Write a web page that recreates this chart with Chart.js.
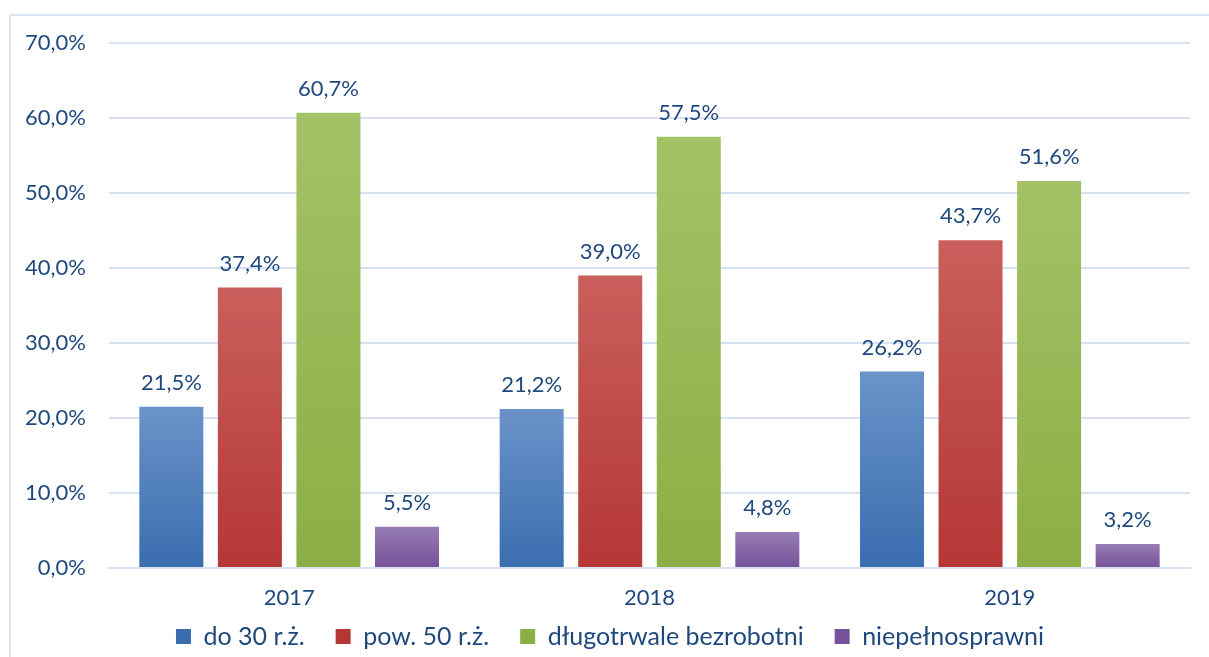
<!DOCTYPE html>
<html>
<head>
<meta charset="utf-8">
<script src="https://cdn.jsdelivr.net/npm/chart.js@4"></script>
<style>
  html, body { margin: 0; padding: 0; background: #fff; }
  #frame { position: absolute; left: 9px; top: 14px; width: 1300px; height: 800px; border: 2px solid #d9e3f1; }
  #wrap { position: absolute; left: 0; top: 0; width: 1209px; height: 657px; }
</style>
</head>
<body>
<div id="frame"></div>
<div id="wrap"><canvas id="chart"></canvas></div>
<script>
var years = ['2017', '2018', '2019'];
var seriesNames = ['do 30 r.ż.', 'pow. 50 r.ż.', 'długotrwale bezrobotni', 'niepełnosprawni'];
var do30 = [21.5, 21.2, 26.2];
var pow50 = [37.4, 39.0, 43.7];
var dlugo = [60.7, 57.5, 51.6];
var niepel = [5.5, 4.8, 3.2];
var yTicks = [0, 10, 20, 30, 40, 50, 60, 70];

// top / bottom colours of each bar gradient
var tops = ['#6a93c9', '#c95f5c', '#a3c266', '#967cb2'];
var bottoms = ['#3a6daf', '#b53735', '#8baf45', '#76529a'];
var mids = ['#4f7fbe', '#bf4a48', '#97b955', '#8566a6'];

var textColor = '#1f497d';
var font = 'Lato, "Open Sans", sans-serif';

function pct(v) {
  return v.toFixed(1).replace('.', ',') + '%';
}

function barColor(i) {
  return function(ctx) {
    var chart = ctx.chart;
    var y = chart.scales.y;
    if (ctx.type !== 'data' || !chart.chartArea || !y) return mids[i];
    var top = y.getPixelForValue(ctx.parsed.y);
    var bottom = y.getPixelForValue(0);
    if (!isFinite(top) || !isFinite(bottom) || top === bottom) return mids[i];
    var g = chart.ctx.createLinearGradient(0, top, 0, bottom);
    g.addColorStop(0, tops[i]);
    g.addColorStop(1, bottoms[i]);
    return g;
  };
}

var valueLabels = {
  id: 'valueLabels',
  afterLayout: function(chart) {
    // legend sits a bit right of the canvas centre
    chart.legend.left += 15;
    chart.legend.right += 15;
    // let the year labels overlap the legend box so they are not clipped
    var x = chart.scales.x;
    x.bottom = x.top + 45;
    x.height = 45;
  },
  afterDatasetsDraw: function(chart) {
    var c = chart.ctx;
    c.save();
    c.font = '22px ' + font;
    c.fillStyle = textColor;
    c.textAlign = 'center';
    c.textBaseline = 'alphabetic';
    chart.data.datasets.forEach(function(ds, i) {
      chart.getDatasetMeta(i).data.forEach(function(bar, j) {
        c.fillText(pct(ds.data[j]), bar.x, bar.y - 17);
      });
    });
    c.restore();
  }
};

var sets = [do30, pow50, dlugo, niepel];
var datasets = sets.map(function(d, i) {
  return {
    label: seriesNames[i],
    data: d,
    backgroundColor: barColor(i),
    borderWidth: 0,
    categoryPercentage: 0.872,
    barPercentage: 0.815
  };
});

new Chart(document.getElementById('chart'), {
  type: 'bar',
  data: { labels: years, datasets: datasets },
  options: {
    responsive: true,
    maintainAspectRatio: false,
    animation: false,
    layout: { padding: { left: 0, right: 19, top: 43, bottom: -2 } },
    scales: {
      x: {
        grid: { display: false, drawTicks: false },
        border: { display: true, color: '#d6e2f2', width: 2 },
        ticks: { color: textColor, font: { family: font, size: 22 }, padding: 17 },
        afterFit: function(s) { s.height = 25; }
      },
      y: {
        min: 0,
        max: 70,
        afterBuildTicks: function(s) { s.ticks = yTicks.map(function(v) { return { value: v }; }); },
        grid: { color: '#d6e2f2', lineWidth: 2, drawTicks: false },
        border: { display: false },
        ticks: {
          color: textColor,
          font: { family: font, size: 22 },
          padding: 23,
          callback: function(v) { return pct(v); }
        },
        afterFit: function(s) { s.width = 109; }
      }
    },
    plugins: {
      legend: {
        position: 'bottom',
        labels: {
          color: textColor,
          font: { family: font, size: 25, lineHeight: 0.8 },
          boxWidth: 15,
          boxHeight: 15,
          padding: 31
        }
      },
      tooltip: { enabled: false }
    }
  },
  plugins: [valueLabels]
});
</script>
</body>
</html>
